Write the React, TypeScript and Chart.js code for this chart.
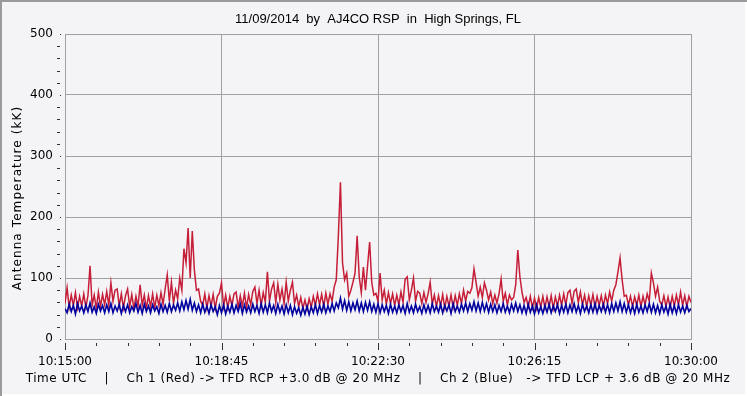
import React, { useEffect, useRef } from "react";
import { Chart, registerables } from "chart.js";

Chart.register(...registerables);

const TITLE = "11/09/2014  by  AJ4CO RSP  in  High Springs, FL";
const Y_TITLE = "Antenna Temperature (kK)";
const FOOTER =
  "Time UTC    |    Ch 1 (Red) -> TFD RCP +3.0 dB @ 20 MHz    |    Ch 2 (Blue)   -> TFD LCP + 3.6 dB @ 20 MHz";
const X_TICK_LABELS = ["10:15:00", "10:18:45", "10:22:30", "10:26:15", "10:30:00"];
const X_MAJOR_STEP = 225; // seconds between labelled ticks
const X_MINOR_STEP = 45;
const X_SPAN = 900;
const Y_MAX = 500;
const Y_MAJOR_STEP = 100;
const Y_MINOR_STEP = 20;
const SAMPLE_SECONDS = 3;

// Ch 1 (Red) – RCP antenna temperature, kK, one value every 3 s
const ch1Red = [
  58, 84, 52, 72, 55, 76, 51, 70, 54, 74, 52, 71, 120, 55, 72, 50, 77, 53, 73, 56,
  78, 55, 92, 62, 80, 82, 54, 74, 51, 71, 82, 53, 73, 50, 70, 54, 89, 55, 72, 50,
  71, 53, 74, 51, 72, 55, 76, 57, 82, 105, 62, 93, 58, 80, 66, 100, 80, 148, 125, 182,
  100, 177, 113, 80, 82, 62, 55, 74, 51, 71, 54, 73, 50, 70, 75, 92, 53, 72, 51, 70,
  55, 74, 77, 52, 71, 54, 75, 51, 73, 56, 78, 85, 58, 80, 55, 76, 60, 110, 62, 82,
  92, 60, 90, 64, 82, 58, 93, 62, 80, 93, 58, 72, 53, 68, 50, 64, 49, 66, 52, 70,
  55, 74, 56, 73, 53, 75, 57, 74, 62, 85, 97, 169, 257, 125, 97, 108, 70, 80, 93, 108,
  169, 102, 76, 118, 80, 120, 159, 93, 72, 75, 62, 108, 64, 80, 57, 76, 58, 74, 55, 72,
  56, 77, 60, 98, 102, 64, 80, 100, 62, 78, 75, 58, 76, 60, 74, 93, 57, 72, 53, 71,
  54, 73, 51, 70, 54, 72, 52, 71, 55, 74, 58, 80, 62, 78, 75, 84, 115, 93, 70, 85,
  68, 92, 80, 64, 77, 58, 72, 59, 74, 98, 62, 75, 56, 72, 64, 68, 89, 146, 102, 77,
  60, 68, 53, 70, 51, 67, 50, 68, 52, 70, 51, 69, 53, 71, 50, 69, 54, 72, 55, 74,
  56, 76, 80, 58, 78, 82, 60, 77, 56, 72, 53, 71, 55, 73, 52, 70, 55, 71, 53, 72,
  58, 77, 62, 80, 89, 110, 133, 97, 70, 72, 56, 70, 53, 69, 55, 72, 53, 70, 56, 74,
  62, 108, 92, 70, 85, 62, 56, 71, 53, 69, 52, 70, 54, 72, 56, 77, 55, 71, 53, 70, 60,
];

// Ch 2 (Blue) – LCP antenna temperature, kK, one value every 3 s
const ch2Blue = [
  50, 43, 57, 45, 55, 41, 58, 46, 54, 43, 56, 45, 59, 44, 53, 42, 57, 46, 55, 43,
  56, 45, 58, 43, 54, 46, 57, 42, 55, 45, 56, 43, 53, 46, 58, 44, 55, 42, 57, 45,
  54, 43, 56, 46, 53, 42, 57, 45, 55, 44, 58, 45, 56, 47, 59, 46, 61, 48, 63, 49,
  65, 47, 59, 45, 56, 43, 57, 44, 54, 42, 56, 45, 53, 40, 55, 43, 56, 41, 54, 44,
  57, 43, 55, 45, 58, 42, 56, 44, 54, 43, 57, 45, 55, 42, 58, 44, 56, 43, 59, 45,
  55, 42, 57, 44, 54, 41, 56, 43, 55, 40, 53, 42, 51, 39, 52, 41, 54, 40, 53, 43,
  56, 42, 55, 44, 57, 43, 54, 45, 58, 46, 59, 51, 67, 49, 63, 47, 61, 46, 59, 48,
  62, 46, 59, 45, 60, 47, 61, 45, 57, 44, 58, 43, 56, 45, 55, 42, 57, 44, 54, 43,
  56, 45, 55, 42, 58, 44, 54, 43, 57, 45, 53, 42, 56, 44, 55, 43, 58, 45, 54, 44,
  57, 43, 55, 46, 56, 42, 58, 45, 54, 44, 57, 46, 59, 45, 58, 47, 61, 46, 59, 45,
  60, 46, 58, 44, 57, 45, 56, 43, 55, 45, 58, 44, 54, 43, 57, 46, 59, 45, 56, 43,
  55, 42, 57, 44, 54, 41, 56, 43, 53, 42, 55, 44, 57, 43, 54, 45, 56, 42, 55, 44,
  57, 43, 56, 45, 58, 44, 55, 42, 57, 45, 54, 43, 56, 44, 58, 43, 55, 45, 57, 44,
  56, 43, 58, 45, 59, 46, 61, 45, 58, 44, 56, 43, 55, 42, 57, 44, 54, 43, 56, 45,
  58, 44, 57, 43, 55, 42, 56, 44, 54, 41, 57, 43, 55, 42, 56, 44, 54, 43, 55, 45, 50,
];

const BG = "#F4F4F6";
const GRID = "#A0A0A0";
const RED = "#C61E38";
const BLUE = "#00009E";

const toPoints = (arr: number[]) => arr.map((v, i) => ({ x: i * SAMPLE_SECONDS, y: v }));

const decorPlugin = {
  id: "decor",
  beforeDraw(chart: any) {
    const { ctx, width, height } = chart;
    ctx.save();
    ctx.fillStyle = BG;
    ctx.fillRect(0, 0, width, height);
    ctx.restore();
  },
  afterDraw(chart: any) {
    const { ctx, width, height, chartArea } = chart;
    const xs = chart.scales.x;
    const ys = chart.scales.y;
    ctx.save();
    // minor / major tick marks
    ctx.fillStyle = "#303030";
    for (let v = 0; v <= Y_MAX; v += Y_MINOR_STEP) {
      const py = Math.round(ys.getPixelForValue(v));
      if (v % Y_MAJOR_STEP === 0) ctx.fillRect(chartArea.left - 5, py, 1, 1);
      else ctx.fillRect(chartArea.left - 8, py, 3, 1);
    }
    for (let t = 0; t <= X_SPAN; t += X_MINOR_STEP) {
      const px = Math.round(xs.getPixelForValue(t));
      ctx.fillRect(px, chartArea.bottom + 4, 1, t % X_MAJOR_STEP === 0 ? 7 : 3);
    }
    // texts
    ctx.fillStyle = "#000";
    ctx.textAlign = "center";
    ctx.textBaseline = "middle";
    ctx.font = "13px 'Liberation Sans'";
    ctx.fillText(TITLE, 378, 19);
    ctx.font = "12px 'DejaVu Sans'";
    (ctx as any).letterSpacing = "0.55px";
    ctx.fillText(FOOTER, 378, 379);
    ctx.save();
    (ctx as any).letterSpacing = "1.1px";
    ctx.translate(18, 198);
    ctx.rotate(-Math.PI / 2);
    ctx.fillText(Y_TITLE, 0, 0);
    ctx.restore();
    (ctx as any).letterSpacing = "0px";
    // outer bevel border
    ctx.fillStyle = "#9A9A9A";
    ctx.fillRect(0, 0, width, 2);
    ctx.fillRect(0, 0, 2, height);
    ctx.fillStyle = "#FFFFFF";
    ctx.fillRect(width - 2, 2, 2, height - 2);
    ctx.fillRect(2, height - 2, width - 2, 2);
    ctx.restore();
  },
};

export default function App() {
  const ref = useRef<HTMLCanvasElement>(null);
  useEffect(() => {
    document.body.style.margin = "0";
    const canvas = ref.current!;
    const chart = new Chart(canvas, {
      type: "line",
      data: {
        datasets: [
          {
            label: "Ch 2 (Blue)",
            data: toPoints(ch2Blue),
            borderColor: BLUE,
            borderWidth: 1.6,
            pointRadius: 0,
            tension: 0,
            order: 0,
          },
          {
            label: "Ch 1 (Red)",
            data: toPoints(ch1Red),
            borderColor: RED,
            borderWidth: 1.5,
            pointRadius: 0,
            tension: 0,
            order: 1,
          },
        ],
      },
      options: {
        animation: false,
        responsive: false,
        devicePixelRatio: 1,
        events: [],
        layout: { padding: { top: 34, right: 56, left: 0, bottom: 0 } },
        plugins: { legend: { display: false }, tooltip: { enabled: false }, title: { display: false } },
        scales: {
          x: {
            type: "linear",
            min: 0,
            max: X_SPAN,
            afterFit: (s: any) => {
              s.height = 57;
            },
            ticks: {
              stepSize: X_MINOR_STEP,
              autoSkip: false,
              maxRotation: 0,
              padding: 16,
              color: "#000",
              font: { family: "'DejaVu Sans'", size: 12 },
              callback: (v: any) =>
                Number(v) % X_MAJOR_STEP === 0 ? X_TICK_LABELS[Number(v) / X_MAJOR_STEP] : "",
            },
            grid: {
              drawTicks: false,
              color: (c: any) =>
                c.tick && c.tick.value % X_MAJOR_STEP === 0 ? GRID : "rgba(0,0,0,0)",
            },
            border: { display: true, color: GRID },
          },
          y: {
            min: 0,
            max: Y_MAX,
            afterFit: (s: any) => {
              s.width = 65;
            },
            ticks: {
              stepSize: Y_MINOR_STEP,
              autoSkip: false,
              padding: 12,
              color: "#000",
              font: { family: "'DejaVu Sans'", size: 12 },
              callback: (v: any) => (Number(v) % Y_MAJOR_STEP === 0 ? String(v) : ""),
            },
            grid: {
              drawTicks: false,
              color: (c: any) =>
                c.tick && c.tick.value % Y_MAJOR_STEP === 0 ? GRID : "rgba(0,0,0,0)",
            },
            border: { display: true, color: GRID },
          },
        },
      },
      plugins: [decorPlugin],
    });
    return () => chart.destroy();
  }, []);
  return <canvas ref={ref} width={747} height={396} style={{ display: "block" }} />;
}
